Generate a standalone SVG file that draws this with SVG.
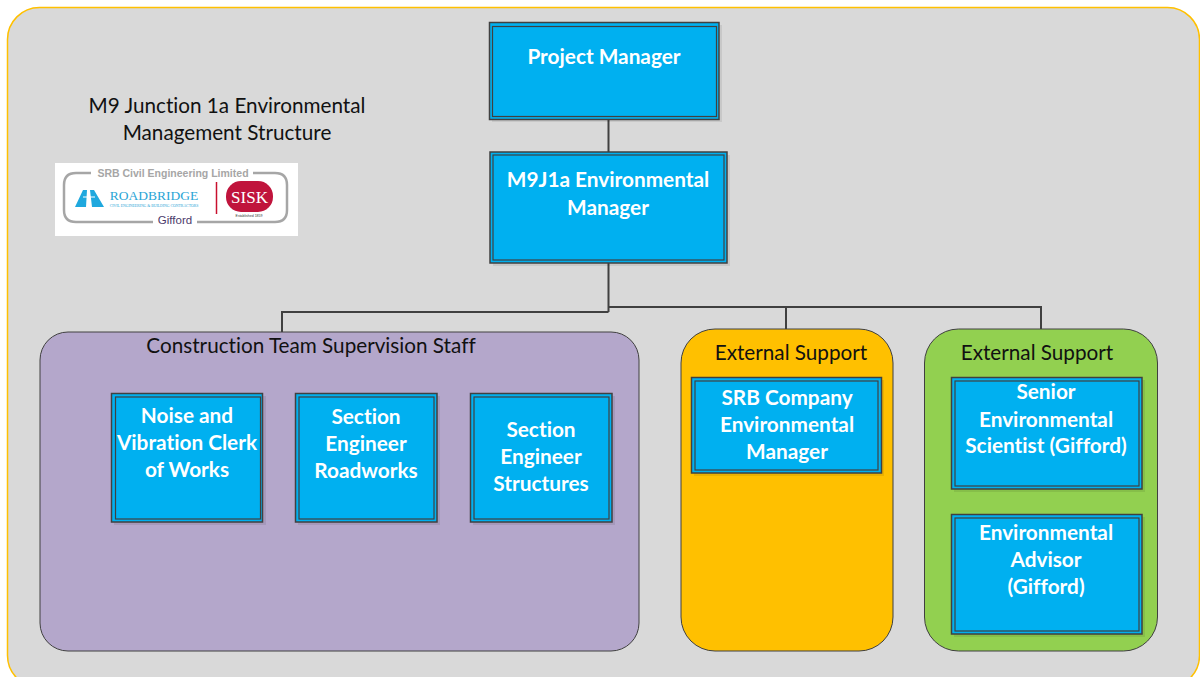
<svg xmlns="http://www.w3.org/2000/svg" width="1200" height="677" viewBox="0 0 1200 677">
<style>
text{font-family:"Lato","Open Sans","Liberation Sans",sans-serif;text-anchor:middle;font-variant-ligatures:none}
.t{font-size:20.800px;fill:#fff;font-weight:700}
.h{font-size:20.700px;fill:#111}
.o{fill:#00b0f0;stroke:#404040;stroke-width:1.5}
.i{fill:none;stroke:#404040;stroke-width:1.2}
.s{fill:#000;opacity:.08}
.c{fill:none;stroke:#404040;stroke-width:2}
.l{font-family:"Liberation Sans",sans-serif}
</style>
<rect x="7.5" y="7.5" width="1192" height="680" rx="32" fill="#d9d9d9" stroke="#ffc000" stroke-width="1.5"/>
<g id="panels">
<rect x="40" y="332" width="599" height="319" rx="28" fill="#b4a7cb" stroke="#404040" stroke-width="1"/>
<rect x="681" y="329" width="212" height="322" rx="34" fill="#ffc000" stroke="#404040" stroke-width="1"/>
<rect x="924.500" y="329" width="233" height="322" rx="34" fill="#92d050" stroke="#404040" stroke-width="1"/>
</g>
<g id="connectors">
<path class="c" d="M608.500 119V152"/>
<path class="c" d="M608.500 263V312M282 332V312H608.500"/>
<path class="c" d="M608.500 307H1041V329M786 307V329"/>
</g>
<g id="title">
<text class="h" x="227" y="113">M9 Junction 1a Environmental</text>
<text class="h" x="227" y="140">Management Structure</text>
</g>
<g id="logo">
<rect x="55" y="163" width="243" height="73" fill="#fff"/>
<path d="M91 173H76Q64 173 64 185V210Q64 222 76 222H153M197 222H275Q287 222 287 210V185Q287 173 275 173H253" fill="none" stroke="#a6a6a6" stroke-width="2.500"/>
<text class="l" x="173" y="177" font-size="10.500" font-weight="700" fill="#a6a6a6">SRB Civil Engineering Limited</text>
<path d="M75 207L83 190H87L86 207ZM90 190H94L104 207H92Z" fill="#1fa8de"/>
<path d="M83 197H95" stroke="#fff" stroke-width="1"/>
<text x="154" y="200" style="font-family:'Liberation Serif',serif" font-size="13.500" fill="#2aa5d6">ROADBRIDGE</text>
<text x="154" y="207" style="font-family:'Liberation Serif',serif" font-size="3.800" fill="#2aa5d6">CIVIL ENGINEERING &amp; BUILDING CONTRACTORS</text>
<path d="M216.500 182V214" stroke="#c8102e" stroke-width="1.500"/>
<rect x="226" y="181" width="47" height="31" rx="15" fill="#c0143c"/>
<text x="249.500" y="203" style="font-family:'Liberation Serif',serif" font-size="17" fill="#fff">SISK</text>
<text x="249" y="217" class="l" font-size="3.500" fill="#333">Established 1859</text>
<text class="l" x="175" y="224" font-size="11.500" fill="#4b3a6b">Gifford</text>
</g>
<g id="project-manager">
<rect class="s" x="492" y="25" width="230" height="97"/>
<rect class="o" x="489.500" y="22.500" width="229.500" height="97"/>
<rect class="i" x="492.500" y="26.500" width="224" height="90"/>
<text class="t" x="604" y="64">Project Manager</text>
</g>
<g id="environmental-manager">
<rect class="s" x="493" y="155" width="237" height="111"/>
<rect class="o" x="490" y="152" width="237" height="111"/>
<rect class="i" x="493" y="155" width="231" height="105"/>
<text class="t" x="608" y="187">M9J1a Environmental</text>
<text class="t" x="608" y="215">Manager</text>
</g>
<g id="construction-team">
<text class="h" x="311" y="353">Construction Team Supervision Staff</text>
</g>
<g id="noise-clerk">
<rect class="s" x="114" y="396" width="152" height="129"/>
<rect class="o" x="111.500" y="393.500" width="151" height="128.500"/>
<rect class="i" x="115.500" y="397" width="145" height="122"/>
<text class="t" x="187" y="423">Noise and</text>
<text class="t" x="187" y="450">Vibration Clerk</text>
<text class="t" x="187" y="477">of Works</text>
</g>
<g id="section-engineer-roadworks">
<rect class="s" x="298" y="396" width="142" height="129"/>
<rect class="o" x="295.500" y="393.500" width="141.500" height="128.500"/>
<rect class="i" x="299" y="397" width="135" height="122"/>
<text class="t" x="366" y="424">Section</text>
<text class="t" x="366" y="451">Engineer</text>
<text class="t" x="366" y="478">Roadworks</text>
</g>
<g id="section-engineer-structures">
<rect class="s" x="473" y="396" width="142" height="129"/>
<rect class="o" x="470.500" y="393.500" width="141.500" height="128.500"/>
<rect class="i" x="474" y="397" width="135" height="122"/>
<text class="t" x="541" y="437">Section</text>
<text class="t" x="541" y="464">Engineer</text>
<text class="t" x="541" y="491">Structures</text>
</g>
<g id="external-support-srb">
<text class="h" x="791" y="360">External Support</text>
<rect class="s" x="694" y="380" width="190" height="96"/>
<rect class="o" x="691.500" y="377.500" width="190" height="95.500"/>
<rect class="i" x="695" y="381" width="183" height="89"/>
<text class="t" x="787" y="405">SRB Company</text>
<text class="t" x="787" y="432">Environmental</text>
<text class="t" x="787" y="459">Manager</text>
</g>
<g id="external-support-gifford">
<text class="h" x="1037" y="360">External Support</text>
<rect class="s" x="954" y="380" width="191" height="112"/>
<rect class="o" x="951.500" y="377.500" width="190.500" height="111.500"/>
<rect class="i" x="955" y="381" width="184" height="105"/>
<text class="t" x="1046" y="399">Senior</text>
<text class="t" x="1046" y="427">Environmental</text>
<text class="t" x="1046" y="453">Scientist (Gifford)</text>
<rect class="s" x="954" y="517" width="191" height="120"/>
<rect class="o" x="951.500" y="514.500" width="190.500" height="119.500"/>
<rect class="i" x="955" y="518" width="184" height="113"/>
<text class="t" x="1046" y="540">Environmental</text>
<text class="t" x="1046" y="567">Advisor</text>
<text class="t" x="1046" y="594">(Gifford)</text>
</g>
</svg>
